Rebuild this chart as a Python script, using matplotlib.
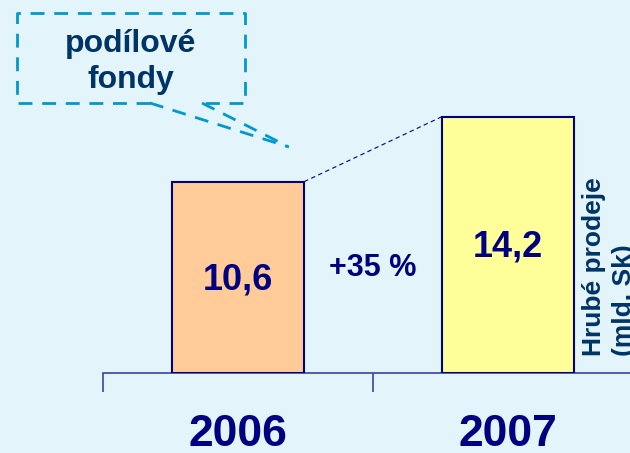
import matplotlib
matplotlib.use("Agg")
import matplotlib.pyplot as plt
from matplotlib.lines import Line2D

plt.rcParams['font.family'] = ['Liberation Sans', 'DejaVu Sans']

years = ["2006", "2007"]
values = [10.6, 14.2]
value_labels = ["10,6", "14,2"]
growth_label = "+35 %"
callout_text = "podílové\nfondy"
axis_title = "Hrubé prodeje\n(mld. Sk)"

W, H = 630, 453
bg = '#E3F4FB'
navy = '#000080'
dark = '#003366'
cyan = '#0099CC'

fig = plt.figure(figsize=(W / 100, H / 100), dpi=100, facecolor=bg)

def fx(px):
    return px / W

def fy(py):
    return 1 - py / H

ax = fig.add_axes([fx(103), fy(373), 540 / W, 361 / H])
ax.set_facecolor(bg)
ax.patch.set_alpha(0)
bw = 0.49
colors = ['#FFCC99', '#FFFF99']
x = list(range(len(values)))
ax.bar(x, values, width=bw, color=colors, edgecolor=navy, linewidth=1.5, zorder=3)
ax.set_xlim(-0.5, 1.5)
ax.set_ylim(0, 20)
for s in ['top', 'right', 'left']:
    ax.spines[s].set_visible(False)
ax.spines['bottom'].set_color('#4040A0')
ax.spines['bottom'].set_linewidth(1.2)
ax.set_yticks([])
ax.set_xticks([-0.5, 0.5, 1.5])
ax.set_xticklabels([])
ax.tick_params(axis='x', length=14, width=1.2, color='#4040A0', direction='out')

# value labels inside bars
label_y = [5.15, 7.0]
for xi, v, lab, ly in zip(x, values, value_labels, label_y):
    ax.text(xi, ly, lab, ha='center', va='center', fontsize=26,
            fontweight='bold', color=navy, zorder=4)

# year labels below axis
for xi, yr in zip(x, years):
    ax.text(xi, -3.4, yr, ha='center', va='center', fontsize=32,
            fontweight='bold', color=navy, clip_on=False)

# growth label
ax.text(0.5, 5.8, growth_label, ha='center', va='center',
        fontsize=22, fontweight='bold', color=navy)

# dashed connector between bar tops
ax.plot([x[0] + bw / 2, x[1] - bw / 2], [values[0], values[1]],
        linestyle=(0, (4, 3)), color=navy, linewidth=0.8, zorder=2)

# axis title (rotated)
fig.text(fx(582), fy(356), axis_title, rotation=90, ha='left', va='bottom',
         multialignment='left', fontsize=19, fontweight='bold', color=dark,
         linespacing=1.3)

# callout box
dash = (0, (5, 3.5))
lw = 2.0
box_pts = [(150, 103), (17, 103), (17, 13), (245, 13), (245, 103), (202, 103)]
fig.add_artist(Line2D([fx(p[0]) for p in box_pts], [fy(p[1]) for p in box_pts],
                      color=cyan, linestyle=dash, linewidth=lw))
fig.add_artist(Line2D([fx(150), fx(289)], [fy(103), fy(147)],
                      color=cyan, linestyle=dash, linewidth=lw))
fig.add_artist(Line2D([fx(202), fx(287)], [fy(103), fy(146)],
                      color=cyan, linestyle=dash, linewidth=lw))
fig.text(fx(131), fy(62), callout_text, ha='center', va='center', fontsize=23,
         fontweight='bold', color=dark, linespacing=1.22)

fig.savefig('out.png', dpi=100, facecolor=bg)
